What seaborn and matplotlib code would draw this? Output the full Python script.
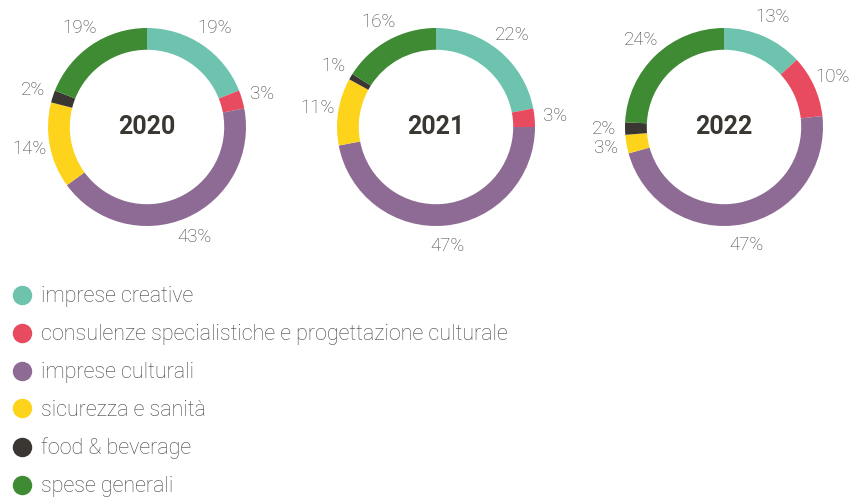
import numpy as np
import matplotlib.pyplot as plt
import seaborn as sns
from matplotlib.lines import Line2D

# dati
categories = ['imprese creative', 'consulenze specialistiche e progettazione culturale',
              'imprese culturali', 'sicurezza e sanità', 'food & beverage', 'spese generali']
years = ['2020', '2021', '2022']
values_2020 = [19, 3, 43, 14, 2, 19]
values_2021 = [22, 3, 47, 11, 1, 16]
values_2022 = [13, 10, 47, 3, 2, 24]
colors = ['#6DC3AE', '#E84A5F', '#8E6B94', '#FDD31C', '#3A3632', '#3F8B34']

sns.set_theme(style='white')
plt.rcParams['font.family'] = ['Roboto', 'DejaVu Sans']

fig = plt.figure(figsize=(8.54, 5.0), dpi=100)

W, H = 854, 500
R = 99          # raggio esterno in px
L = 1.35        # limiti assi in unità del raggio
size = 2 * L * R
centers = [(147, 127), (436, 127), (724, 127)]

for year, vals, (cx, cy) in zip(years, [values_2020, values_2021, values_2022], centers):
    ax = fig.add_axes([(cx - size / 2) / W, (H - cy - size / 2) / H, size / W, size / H])
    wedges, texts = ax.pie(vals, colors=colors, startangle=90, counterclock=False,
                           radius=1, labels=[f'{v}%' for v in vals], labeldistance=1.21,
                           wedgeprops=dict(width=0.22, linewidth=0),
                           textprops=dict(fontsize=13.5, color='#444444', fontweight='light'))
    for t in texts:
        t.set_ha('center')
        t.set_va('center')
    ax.text(0, 0, year, ha='center', va='center', fontsize=18, fontweight='bold', color='#3A3632')
    ax.set_xlim(-L, L)
    ax.set_ylim(-L, L)
    ax.set_aspect('equal')
    ax.axis('off')

handles = [Line2D([0], [0], marker='o', linestyle='', markersize=13, markerfacecolor=c,
                  markeredgecolor=c) for c in colors]
fig.legend(handles, categories, loc='upper left', bbox_to_anchor=(5 / W, 1 - 280 / H),
           frameon=False, labelspacing=0.78, handlelength=1.0, handletextpad=0.35,
           borderpad=0.2, borderaxespad=0.1,
           labelcolor='#444444', prop=dict(size=15.5, weight='light'))

fig.savefig('out.png', dpi=100)
